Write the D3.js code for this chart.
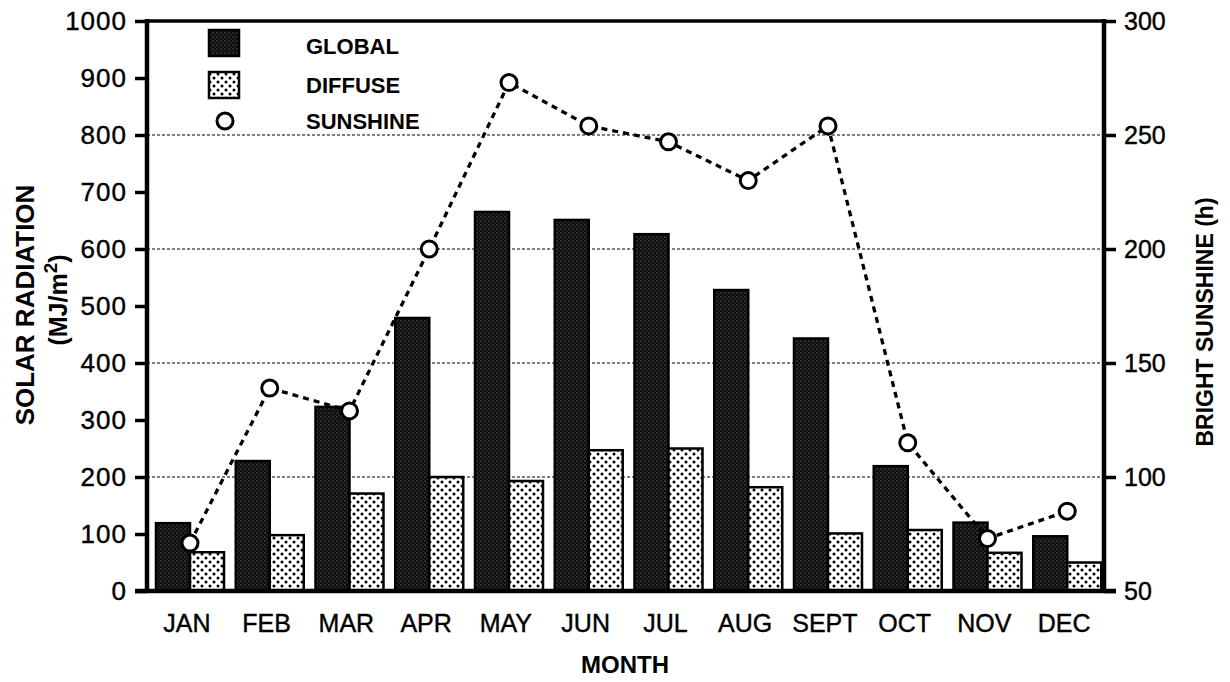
<!DOCTYPE html>
<html>
<head>
<meta charset="utf-8">
<script src="https://cdn.jsdelivr.net/npm/d3@7"></script>
<style>
  html, body { margin: 0; padding: 0; background: #fff; }
  svg { display: block; font-family: "Liberation Sans", Arial, Helvetica, sans-serif; }
</style>
</head>
<body>
<svg id="chart" width="1230" height="682"></svg>
<script>
// ---- data ----
const months = ["JAN","FEB","MAR","APR","MAY","JUN","JUL","AUG","SEPT","OCT","NOV","DEC"];
const globalRad = [119, 228, 323, 479, 665, 651, 626, 528, 443, 219, 120, 96];
const diffuseRad = [68, 98, 171, 200, 193, 247, 250, 182, 101, 107, 67, 50];
const sunshine = [71, 139, 129, 200, 273, 254, 247, 230, 254, 115, 73, 85];
const leftTicks = [0,100,200,300,400,500,600,700,800,900,1000];
const rightTicks = [50,100,150,200,250,300];
const gridValues = [200,400,600,800];
const seriesKeys = ["global","diffuse"];
const legendLabels = ["GLOBAL","DIFFUSE","SUNSHINE"];

// ---- layout ----
const svg = d3.select("#chart");
const L = 147, R = 1104, T = 21, B = 591;

const x0 = d3.scaleBand().domain(months).range([L, R]);
const x1 = d3.scaleBand().domain(seriesKeys).range([9, 77]);
const yL = d3.scaleLinear().domain([0, 1000]).range([B, T]);
const yR = d3.scaleLinear().domain([50, 300]).range([B, T]);

// ---- patterns ----
const defs = svg.append("defs");
const pg = defs.append("pattern").attr("id","patGlobal").attr("patternUnits","userSpaceOnUse")
  .attr("width",4).attr("height",4);
pg.append("rect").attr("width",4).attr("height",4).attr("fill","#0d0d0d");
pg.append("rect").attr("x",0.5).attr("y",0.5).attr("width",1).attr("height",1).attr("fill","#8a8a8a");
pg.append("rect").attr("x",2.5).attr("y",2.5).attr("width",1).attr("height",1).attr("fill","#555");

const pd = defs.append("pattern").attr("id","patDiffuse").attr("patternUnits","userSpaceOnUse")
  .attr("width",8).attr("height",8);
pd.append("rect").attr("width",8).attr("height",8).attr("fill","#fff");
pd.append("circle").attr("cx",2).attr("cy",2).attr("r",1.5).attr("fill","#000");
pd.append("circle").attr("cx",6).attr("cy",6).attr("r",1.5).attr("fill","#000");

// ---- gridlines ----
svg.append("g").selectAll("line").data(gridValues).join("line")
  .attr("x1", L).attr("x2", R)
  .attr("y1", d => yL(d)).attr("y2", d => yL(d))
  .attr("stroke","#000").attr("stroke-width",1.2).attr("stroke-dasharray","3,2");

// ---- bars ----
const rows = months.map((m,i) => ({m, global: globalRad[i], diffuse: diffuseRad[i], sun: sunshine[i]}));
const fills = {global: "url(#patGlobal)", diffuse: "url(#patDiffuse)"};
const gb = svg.append("g");
rows.forEach(r => {
  seriesKeys.forEach(k => {
    gb.append("rect")
      .attr("x", x0(r.m) + x1(k))
      .attr("y", yL(r[k]))
      .attr("width", x1.bandwidth())
      .attr("height", yL(0) - yL(r[k]))
      .attr("fill", fills[k])
      .attr("stroke", "#000").attr("stroke-width", 2.5);
  });
});

// ---- sunshine line ----
const sx = d => x0(d.m) + x1("diffuse");
svg.append("path").datum(rows)
  .attr("d", d3.line().x(sx).y(d => yR(d.sun)))
  .attr("fill","none").attr("stroke","#000").attr("stroke-width",3.3)
  .attr("stroke-dasharray","6,5");
svg.append("g").selectAll("circle").data(rows).join("circle")
  .attr("cx", sx).attr("cy", d => yR(d.sun)).attr("r", 8)
  .attr("fill","#fff").attr("stroke","#000").attr("stroke-width",3);

// ---- axes ----
const axL = svg.append("g").attr("transform", `translate(${L},0)`)
  .call(d3.axisLeft(yL).tickValues(leftTicks).tickFormat(d3.format("d")).tickSize(12).tickPadding(8));
axL.select(".domain").remove();
axL.selectAll(".tick line").attr("stroke-width",3.5);
axL.selectAll(".tick text").attr("font-size",26).attr("letter-spacing","1px")
  .attr("font-family","Liberation Sans, Arial, sans-serif").attr("fill","#000")
  .attr("stroke","#000").attr("stroke-width",0.4);

const axR = svg.append("g").attr("transform", `translate(${R},0)`)
  .call(d3.axisRight(yR).tickValues(rightTicks).tickFormat(d3.format("d")).tickSize(12).tickPadding(8));
axR.select(".domain").remove();
axR.selectAll(".tick line").attr("stroke-width",3.5);
axR.selectAll(".tick text").attr("font-size",25)
  .attr("font-family","Liberation Sans, Arial, sans-serif").attr("fill","#000")
  .attr("stroke","#000").attr("stroke-width",0.4);

const axB = svg.append("g").attr("transform", `translate(0,${B})`)
  .call(d3.axisBottom(x0).tickSize(0).tickPadding(23));
axB.select(".domain").remove();
axB.selectAll(".tick text").attr("font-size",25)
  .attr("font-family","Liberation Sans, Arial, sans-serif").attr("fill","#000")
  .attr("stroke","#000").attr("stroke-width",0.4);

// frame lines
svg.append("line").attr("x1",L).attr("x2",L).attr("y1",T-2).attr("y2",B+2).attr("stroke","#000").attr("stroke-width",4.5);
svg.append("line").attr("x1",R).attr("x2",R).attr("y1",T-2).attr("y2",B+2).attr("stroke","#000").attr("stroke-width",4.5);
svg.append("line").attr("x1",L).attr("x2",R).attr("y1",T).attr("y2",T).attr("stroke","#000").attr("stroke-width",3.5);
svg.append("line").attr("x1",L-12).attr("x2",R+12).attr("y1",B).attr("y2",B).attr("stroke","#000").attr("stroke-width",4.5);

// ---- titles ----
svg.append("text").attr("transform","translate(34,305) rotate(-90)")
  .attr("text-anchor","middle").attr("font-weight","bold").attr("font-size",26)
  .text("SOLAR RADIATION");
const t2 = svg.append("text").attr("transform","translate(67,300) rotate(-90)")
  .attr("text-anchor","middle").attr("font-weight","bold").attr("font-size",25);
t2.append("tspan").text("(MJ/m");
t2.append("tspan").attr("dy",-10).attr("font-size",19).text("2");
t2.append("tspan").attr("dy",10).text(")");
svg.append("text").attr("transform","translate(1213,322) rotate(-90)")
  .attr("text-anchor","middle").attr("font-weight","bold").attr("font-size",23)
  .text("BRIGHT SUNSHINE (h)");
svg.append("text").attr("x",625).attr("y",673)
  .attr("text-anchor","middle").attr("font-weight","bold").attr("font-size",24)
  .text("MONTH");

// ---- legend ----
const lg = svg.append("g");
lg.append("rect").attr("x",209).attr("y",30).attr("width",30).attr("height",26)
  .attr("fill","url(#patGlobal)").attr("stroke","#000").attr("stroke-width",2.5);
lg.append("rect").attr("x",209).attr("y",72).attr("width",30).attr("height",26)
  .attr("fill","url(#patDiffuse)").attr("stroke","#000").attr("stroke-width",2.5);
lg.append("circle").attr("cx",225).attr("cy",121).attr("r",8)
  .attr("fill","#fff").attr("stroke","#000").attr("stroke-width",3);
lg.selectAll("text").data(legendLabels).join("text")
  .attr("x",306).attr("y",(d,i) => [54,93,129][i])
  .attr("font-weight","bold").attr("font-size",22).text(d => d);
</script>
</body>
</html>
